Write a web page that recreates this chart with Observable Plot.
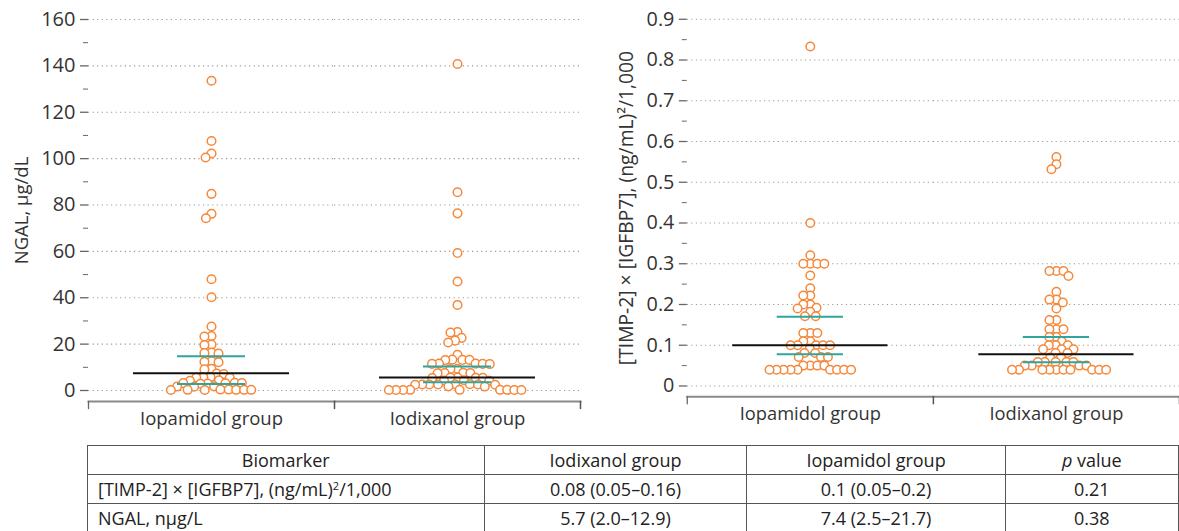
<!DOCTYPE html>
<html>
<head>
<meta charset="utf-8">
<script src="https://cdn.jsdelivr.net/npm/d3@7"></script>
<script src="https://cdn.jsdelivr.net/npm/@observablehq/plot@0.6"></script>
<style>
  html, body { margin: 0; padding: 0; background: #fff; overflow: hidden; width: 1179px; height: 531px; }
  #wrap { position: relative; width: 1179px; height: 531px; overflow: hidden; font-family: "Open Sans", sans-serif; }
  #left { position: absolute; left: 0; top: 0; }
  #right { position: absolute; left: 580px; top: 0; }
  #tbl { position: absolute; left: 87px; top: 445px; border-collapse: collapse; font-family: "Open Sans", sans-serif; font-size: 18px; color: #222; table-layout: fixed; }
  #tbl td, #tbl th { border: 1.5px solid #555; padding: 0 10px; height: 28px; line-height: 26px; font-weight: normal; text-align: center; white-space: nowrap; overflow: hidden; }
  #tbl td.first { text-align: left; }
  #tbl sup { font-size: 11px; vertical-align: 6px; line-height: 0; }
</style>
</head>
<body>
<div id="wrap">
  <div id="left"></div>
  <div id="right"></div>
  <table id="tbl"></table>
</div>
<script>
const groups = ["Iopamidol group", "Iodixanol group"];

// NGAL (μg/dL) values read from the beeswarm
const ngalIopamidol = [133.6, 107.6, 102.2, 100.5, 84.8, 76.2, 74.3, 48.0, 40.2, 27.6,
  23.5, 23.3, 19.8, 19.6, 16.4, 16.1, 15.9, 12.6, 12.4, 12.2, 9.4, 9.1, 7.3, 7.1,
  5.8, 5.7, 5.6, 5.5, 4.4, 4.2, 3.3, 3.2, 3.1, 3.0, 2.9, 3.2, 1.8, 1.7, 1.6,
  0.4, 0.3, 0.3, 0.2, 0.4, 0.3, 0.2, 0.3];
const ngalIodixanol = [140.8, 85.5, 76.4, 59.3, 47.0, 36.9, 25.2, 25.0, 22.7, 21.5, 20.7,
  15.4, 13.3, 13.2, 13.1, 13.2, 11.5, 11.6, 11.4, 11.5, 11.6, 9.3, 9.4,
  7.5, 7.6, 7.4, 7.5, 5.5, 5.6, 5.4, 5.5, 5.6, 4.3, 4.4, 4.2,
  2.6, 2.7, 2.5, 2.6, 2.7, 2.5, 2.6, 2.6, 1.7, 1.8,
  0.2, 0.3, 0.2, 0.3, 0.2, 0.3, 0.2, 0.3, 0.2];
const ngalMedian = [7.4, 5.6];
const ngalUpper = [14.8, 10.3];
const ngalLower = [2.8, 3.6];
const ngalTicks = [0, 20, 40, 60, 80, 100, 120, 140, 160];
const ngalMinor = [10, 30, 50, 70, 90, 110, 130, 150];

// [TIMP-2] x [IGFBP7] values
const timpIopamidol = [0.833, 0.40, 0.321, 0.30, 0.30, 0.30, 0.30, 0.271, 0.24, 0.222, 0.222,
  0.20, 0.20, 0.192, 0.19, 0.182, 0.171, 0.171, 0.13, 0.13, 0.13, 0.11, 0.11,
  0.10, 0.10, 0.10, 0.10, 0.10, 0.092, 0.081, 0.081, 0.071, 0.071, 0.071,
  0.05, 0.05, 0.05, 0.05, 0.04, 0.04, 0.04, 0.04, 0.04, 0.04, 0.04, 0.04, 0.04];
const timpIodixanol = [0.562, 0.544, 0.532, 0.282, 0.282, 0.282, 0.27, 0.231, 0.212, 0.212,
  0.205, 0.19, 0.162, 0.162, 0.139, 0.139, 0.139, 0.12, 0.12, 0.109, 0.10, 0.10, 0.10,
  0.09, 0.09, 0.09, 0.081, 0.081, 0.07, 0.07, 0.059, 0.059, 0.059, 0.059, 0.059,
  0.05, 0.05, 0.05, 0.05, 0.04, 0.04, 0.04, 0.04, 0.04, 0.04, 0.04, 0.04, 0.04, 0.04];
const timpMedian = [0.10, 0.078];
const timpUpper = [0.17, 0.12];
const timpLower = [0.078, 0.058];
const timpTicks = [0, 0.1, 0.2, 0.3, 0.4, 0.5, 0.6, 0.7, 0.8, 0.9];
const timpMinor = [0.05, 0.15, 0.25, 0.35, 0.45, 0.55, 0.65, 0.75, 0.85];

// Table
const tableHeader = ["Biomarker", "Iodixanol group", "Iopamidol group", "p value"];
const tableBiomarkers = ["[TIMP-2] × [IGFBP7], (ng/mL)<sup>2</sup>/1,000", "NGAL, nμg/L"];
const tableIodixanol = ["0.08 (0.05–0.16)", "5.7 (2.0–12.9)"];
const tableIopamidol = ["0.1 (0.05–0.2)", "7.4 (2.5–21.7)"];
const tablePValue = ["0.21", "0.38"];

const orange = "#f5883a";
const teal = "#2fa5a0";
const tickShape = { draw(ctx, l) { ctx.moveTo(0, 0); ctx.lineTo(0, -l); } };

function chart(o) {
  const pts = groups.flatMap((g, i) => o.values[i].map(v => ({g, v})))
    .sort((a, b) => b.v - a.v);
  const stats = groups.map((g, i) => ({g, med: o.med[i], lo: o.lo[i], hi: o.hi[i]}));
  const dash = "1.2,3.4";
  return Plot.plot({
    width: o.width, height: 440,
    marginLeft: o.marginLeft, marginRight: 0, marginTop: 19, marginBottom: 39,
    style: {fontFamily: "Open Sans, sans-serif", fontSize: "18.5px", color: "#333", background: "transparent", overflow: "visible"},
    fx: {domain: groups, padding: 0, label: null},
    y: {domain: o.domain, range: [390, 19], label: null},
    marks: [
      Plot.gridY(o.ticks, {stroke: "#999", strokeOpacity: 1, strokeDasharray: dash, strokeWidth: 1.2}),
      Plot.ruleX(stats, {fx: "g", stroke: "#999", strokeDasharray: dash, strokeWidth: 1.2}),
      Plot.axisY(o.minor, {tickSize: 5, tickFormat: () => "", stroke: "#666", label: null}),
      Plot.axisY(o.ticks, {tickSize: 8, tickPadding: 5, tickFormat: o.fmt, stroke: "#666", strokeWidth: 1.3, line: true,
        fontSize: 20, label: null, fill: "#333"}),
      Plot.axisY(o.ticks, {tickSize: 0, tickFormat: () => "", label: o.label, labelAnchor: "center", labelArrow: "none",
        labelOffset: o.labelOffset, fill: "#333", fontSize: o.labelSize}),
      Plot.frame({anchor: "bottom", stroke: "#8a8a8a", strokeWidth: 2}),
      Plot.axisFx({anchor: "bottom", tickSize: 0, tickPadding: 10, label: null, fill: "#333"}),
      Plot.vector(stats, {fx: "g", frameAnchor: "bottom-right", length: 7, rotate: 180, anchor: "start", shape: tickShape, stroke: "#555", strokeWidth: 1.5}),
      Plot.vector([groups[0]], {fx: d => d, frameAnchor: "bottom-left", length: 7, rotate: 180, anchor: "start", shape: tickShape, stroke: "#666", strokeWidth: 1.3}),
      Plot.dot(pts, Plot.dodgeX({anchor: "middle", padding: -1.5, r: 4.3, fx: "g", y: "v", stroke: orange, fill: "white", strokeWidth: 1.5})),
      Plot.ruleY(stats, {fx: "g", y: "med", stroke: "#111", strokeWidth: 2, insetLeft: o.blackInset, insetRight: o.blackInset}),
      Plot.ruleY(stats, {fx: "g", y: "hi", stroke: teal, strokeWidth: 2, insetLeft: o.tealInset, insetRight: o.tealInset}),
      Plot.ruleY(stats, {fx: "g", y: "lo", stroke: teal, strokeWidth: 2, insetLeft: o.tealInset, insetRight: o.tealInset}),
      Plot.ruleX(stats, {fx: "g", y1: "lo", y2: "hi", stroke: teal, strokeWidth: 2})
    ]
  });
}

document.getElementById("left").append(chart({
  values: [ngalIopamidol, ngalIodixanol], med: ngalMedian, lo: ngalLower, hi: ngalUpper,
  ticks: ngalTicks, minor: ngalMinor, domain: [0, 160], width: 580, marginLeft: 88,
  label: "NGAL, μg/dL", labelOffset: 74, labelSize: 18.5, fmt: d => String(d), blackInset: 45, tealInset: 89
}));
document.getElementById("right").append(chart({
  values: [timpIopamidol, timpIodixanol], med: timpMedian, lo: timpLower, hi: timpUpper,
  ticks: timpTicks, minor: timpMinor, domain: [0, 0.9], width: 606, marginLeft: 107,
  label: "[TIMP-2] × [IGFBP7], (ng/mL)²/1,000", labelOffset: 69, labelSize: 19.5, fmt: d => d === 0 ? "0" : d.toFixed(1), blackInset: 46, tealInset: 91
}));

// build table
const tbl = document.getElementById("tbl");
const colW = [398, 265, 260, 175];
const cg = document.createElement("colgroup");
colW.forEach(w => { const c = document.createElement("col"); c.style.width = w + "px"; cg.append(c); });
tbl.append(cg);
const hr = document.createElement("tr");
tableHeader.forEach(h => {
  const th = document.createElement("th");
  if (h === "p value") th.innerHTML = "<i>p</i> value"; else th.textContent = h;
  hr.append(th);
});
tbl.append(hr);
tableBiomarkers.forEach((b, i) => {
  const tr = document.createElement("tr");
  [b, tableIodixanol[i], tableIopamidol[i], tablePValue[i]].forEach((t, j) => {
    const td = document.createElement("td");
    if (j === 0) { td.innerHTML = t; td.className = "first"; } else td.textContent = t;
    tr.append(td);
  });
  tbl.append(tr);
});
</script>
</body>
</html>
